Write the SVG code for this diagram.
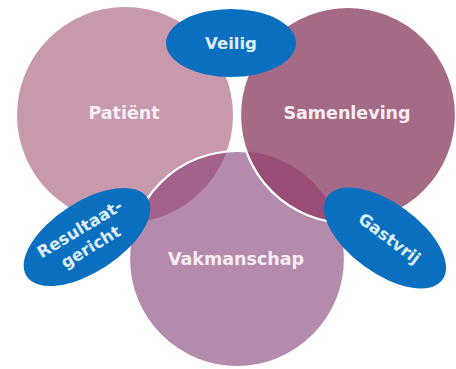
<svg xmlns="http://www.w3.org/2000/svg" width="456" height="369" viewBox="0 0 456 369">
  <style>
    .lbl { font-family: "DejaVu Sans", Verdana, sans-serif; font-weight: bold; text-anchor: middle; }
    .big { font-size: 17.5px; fill: #f6eef3; }
    .small { font-size: 16.5px; fill: #dcedf8; }
    .pill { fill: #0b6fbf; }
    .ring { fill: none; stroke: #ffffff; stroke-width: 2.2; }
  </style>
  <defs>
    <clipPath id="clipPatient"><circle cx="125" cy="115" r="108"/></clipPath>
    <clipPath id="clipVak"><circle cx="237" cy="259" r="108"/></clipPath>
  </defs>
  <rect width="456" height="369" fill="#ffffff"/>

  <g id="patient">
    <circle cx="125" cy="115" r="108" fill="#c898ad"/>
  </g>

  <g id="vakmanschap">
    <circle cx="237" cy="259" r="108" fill="#b48aad"/>
    <!-- overlap Patiënt / Vakmanschap -->
    <circle cx="237" cy="259" r="108" fill="#a4618d" clip-path="url(#clipPatient)"/>
    <circle class="ring" cx="237" cy="259" r="108"/>
  </g>

  <g id="samenleving">
    <circle cx="348" cy="115" r="108" fill="#a56a86"/>
    <!-- overlap Samenleving / Vakmanschap -->
    <circle cx="348" cy="115" r="108" fill="#9a4e77" clip-path="url(#clipVak)"/>
    <circle class="ring" cx="348" cy="115" r="108"/>
  </g>

  <g id="labels">
    <text class="lbl big" x="124" y="119">Patiënt</text>
    <text class="lbl big" x="347" y="119">Samenleving</text>
    <text class="lbl big" x="236" y="265">Vakmanschap</text>
  </g>

  <g id="veilig">
    <ellipse class="pill" cx="231" cy="43" rx="65" ry="34"/>
    <text class="lbl small" x="231" y="49">Veilig</text>
  </g>

  <g id="resultaatgericht">
    <ellipse class="pill" cx="87" cy="237" rx="72" ry="35" transform="rotate(-33 87 237)"/>
    <g transform="translate(87 237) rotate(-31)">
      <text class="lbl small" x="-2" y="-5">Resultaat-</text>
      <text class="lbl small" x="-2" y="16">gericht</text>
    </g>
  </g>

  <g id="gastvrij">
    <ellipse class="pill" cx="385" cy="238" rx="71" ry="35" transform="rotate(36 385 238)"/>
    <text class="lbl small" x="0" y="0" transform="translate(386 243) rotate(37)">Gastvrij</text>
  </g>
</svg>
